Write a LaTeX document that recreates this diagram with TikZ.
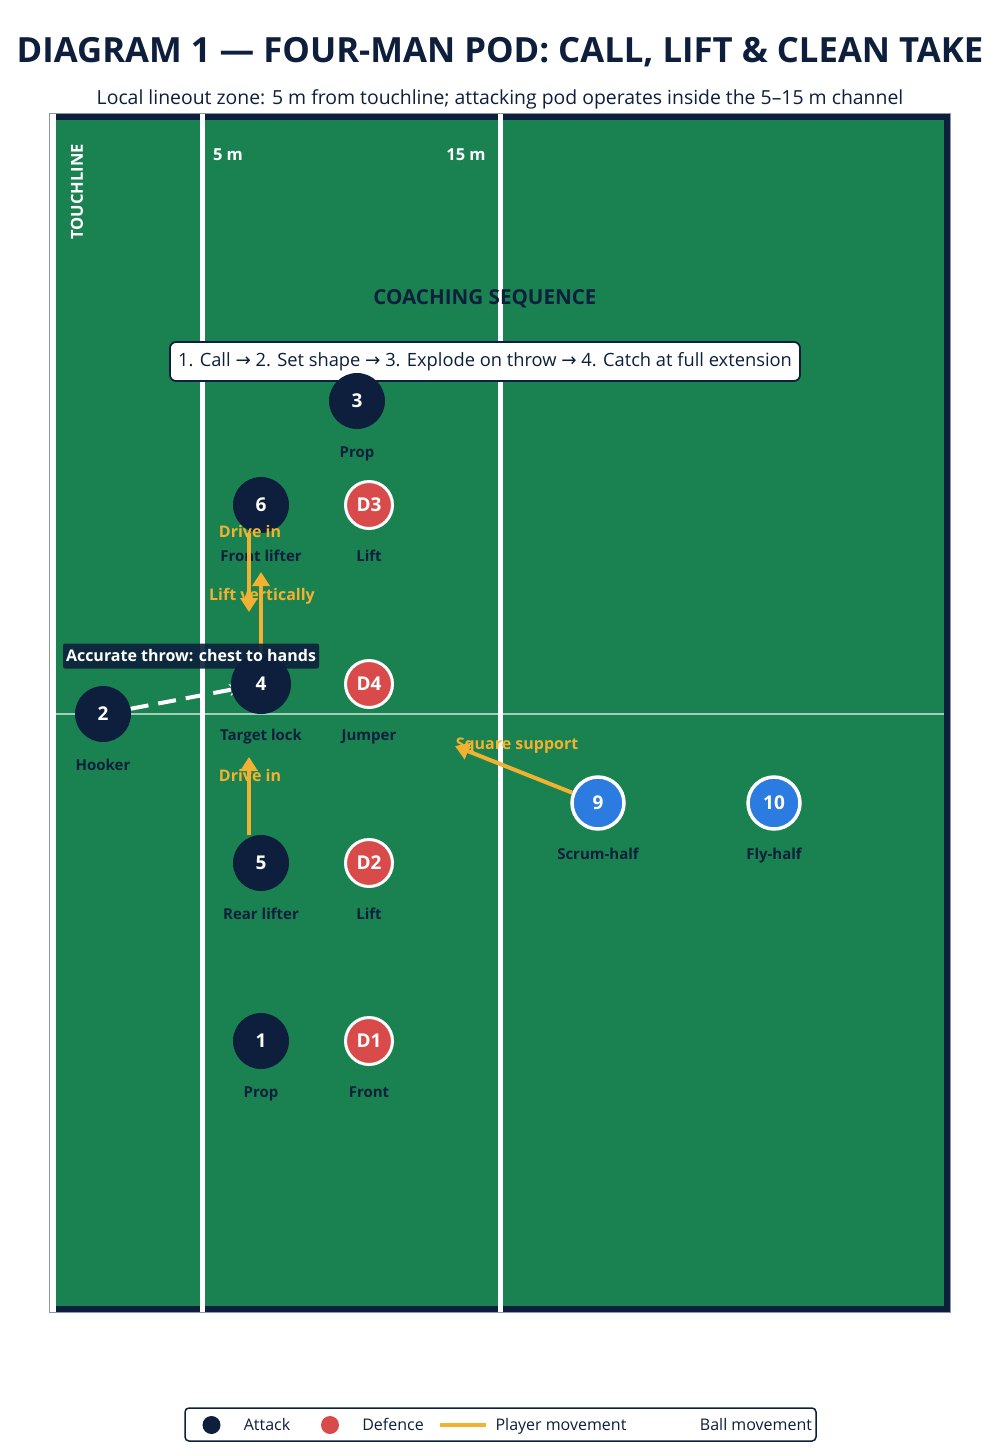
\documentclass[tikz,border=0pt]{standalone}
\usepackage{fontspec}
\setmainfont{Open Sans}
\newfontfamily\arrowfont{DejaVu Sans}
\usetikzlibrary{arrows.meta,backgrounds}

\definecolor{navy}{HTML}{0D1F3C}
\definecolor{pitch}{HTML}{1A8250}
\definecolor{defred}{HTML}{D94B4B}
\definecolor{halfblue}{HTML}{2B7BE0}
\definecolor{moveorange}{HTML}{F3B132}
\definecolor{edgegrey}{HTML}{8C96AA}
\newcommand{\fsz}[1]{\fontsize{#1}{#1}\selectfont}

\begin{document}
\begin{tikzpicture}[x=1pt,y=-1pt,
  attack/.style={circle,fill=navy,text=white,inner sep=0pt,minimum size=56pt,font=\bfseries\fsz{19}},
  defence/.style={circle,fill=defred,draw=white,line width=3pt,text=white,inner sep=0pt,minimum size=47pt,font=\bfseries\fsz{19}},
  half/.style={circle,fill=halfblue,draw=white,line width=3.5pt,text=white,inner sep=0pt,minimum size=52pt,font=\bfseries\fsz{19}},
  role/.style={text=navy,font=\bfseries\fsz{15},text height=0.72em,text depth=0.22em,yshift=-3pt},
  move/.style={draw=moveorange,line width=4pt,-{Triangle[length=14pt,width=17pt]}},
  movetext/.style={text=moveorange,font=\bfseries\fsz{16},text height=0.72em,text depth=0.22em,yshift=-3.5pt},
  ball/.style={draw=white,line width=4pt,dash pattern=on 18pt off 10pt,-{Stealth[length=12pt,width=12pt]}},
  fieldtext/.style={text=white,font=\bfseries\fsz{16.5}},
  keytext/.style={text=navy,font=\fsz{16},text height=0.72em,text depth=0.22em,yshift=-3pt}]
  \useasboundingbox (0,0) rectangle (1000,1456);

  % Pitch
  \begin{pgfonlayer}{background}
    \fill[white] (0,0) rectangle (1000,1456);
    \draw[navy,fill=pitch,line width=6pt] (53,117) rectangle (947,1309);
    \draw[edgegrey,line width=0.8pt] (49.6,113.6) rectangle (950.4,1312.4);
    \draw[white,line width=6pt] (53,114) -- (53,1312);
    \draw[white,line width=5pt] (202.5,114) -- (202.5,1312);
    \draw[white,line width=5pt] (500.5,114) -- (500.5,1312);
    \draw[white,opacity=.6,line width=2pt] (56,714) -- (944,714);
  \end{pgfonlayer}

  % Titles
  \node[text=navy,font=\bfseries\fsz{34.7}] (title) at (500,52) {DIAGRAM 1 — FOUR-MAN POD: CALL, LIFT \& CLEAN TAKE};
  \node[text=navy,font=\fsz{19.4}] (subtitle) at (500,99) {Local lineout zone: 5 m from touchline; attacking pod operates inside the 5–15 m channel};

  \node[fieldtext,rotate=90] (touch) at (77,192) {TOUCHLINE};
  \node[fieldtext] (five) at (228,155) {5 m};
  \node[fieldtext] (fifteen) at (466,155) {15 m};

  \node[text=navy,font=\bfseries\fsz{20.6}] (seqhead) at (485,299) {COACHING SEQUENCE};
  \node[draw=navy,line width=1.8pt,fill=white,rounded corners=6pt,minimum width=630pt,minimum height=39pt,inner xsep=4pt,text=navy,font=\fsz{18.3}] (steps) at (485,361.5)
        {1. Call {\arrowfont →} 2. Set shape {\arrowfont →} 3. Explode on throw {\arrowfont →} 4. Catch at full extension};

  % Players
  \node[attack]  (n3)  at (357,401)  {3};
  \node[attack]  (n6)  at (261,505)  {6};
  \node[defence] (d3)  at (369,505)  {D3};
  \node[attack,minimum size=60pt] (n4) at (261,684) {4};
  \node[defence] (d4)  at (369,684)  {D4};
  \node[attack]  (n2)  at (103,714)  {2};
  \node[attack]  (n5)  at (261,863)  {5};
  \node[defence] (d2)  at (369,863)  {D2};
  \node[attack]  (n1)  at (261,1041) {1};
  \node[defence] (d1)  at (369,1041) {D1};
  \node[half]    (n9)  at (598,803)  {9};
  \node[half]    (n10) at (774,803)  {10};

  \node[role] (r3)  at (357,452)  {Prop};
  \node[role] (r6)  at (261,556)  {Front lifter};
  \node[role] (rd3) at (369,556)  {Lift};
  \node[role] (r4)  at (261,735)  {Target lock};
  \node[role] (rd4) at (369,735)  {Jumper};
  \node[role] (r2)  at (103,765)  {Hooker};
  \node[role] (r5)  at (261,914)  {Rear lifter};
  \node[role] (rd2) at (369,914)  {Lift};
  \node[role] (r1)  at (261,1092) {Prop};
  \node[role] (rd1) at (369,1092) {Front};
  \node[role] (r9)  at (598,854)  {Scrum-half};
  \node[role] (r10) at (774,854)  {Fly-half};

  % Ball
  \begin{pgfonlayer}{background}
    \draw[ball,shorten >=20pt] (n2) -- (n4.center);
  \end{pgfonlayer}

  % Player movement
  \coordinate (drive6) at (249,612);
  \coordinate (lift4)  at (261,572);
  \coordinate (drive5) at (249,757);
  \coordinate (square9) at (455,746);
  \draw[move] (n6.south -| drive6) -- (drive6);
  \draw[move] (n4) -- (lift4);
  \draw[move] (n5.north -| drive5) -- (drive5);
  \draw[move] (n9) -- (square9);
  \node[movetext] (t6) at (250,531) {Drive in};
  \node[movetext] (t4) at (262,594) {Lift vertically};
  \node[movetext] (t5) at (250,775) {Drive in};
  \node[movetext] (t9) at (517,743) {Square support};

  \node[fill=navy,fill opacity=.9,text opacity=1,text=white,font=\bfseries\fsz{16},rounded corners=2pt,inner xsep=3pt,minimum height=25pt] (throw) at (191,656) {Accurate throw: chest to hands};

  % Legend
  \node[draw=navy,line width=1.5pt,fill=white,rounded corners=4pt,minimum width=631pt,minimum height=33pt] (legend) at (500.5,1424.5) {};
  \node[circle,fill=navy,inner sep=0pt,minimum size=18pt] (keyattack) at (211.5,1425) {};
  \node[keytext] (keyattacktext) at (267,1425) {Attack};
  \node[circle,fill=defred,inner sep=0pt,minimum size=18pt] (keydefence) at (330,1425) {};
  \node[keytext] (keydefencetext) at (393,1425) {Defence};
  \coordinate (keymovea) at (440,1425);
  \coordinate (keymoveb) at (486,1425);
  \draw[moveorange,line width=4pt] (keymovea) -- (keymoveb);
  \node[keytext] (keymovetext) at (561,1425) {Player movement};
  \node[keytext] (keyballtext) at (756,1425) {Ball movement};
\end{tikzpicture}
\end{document}
